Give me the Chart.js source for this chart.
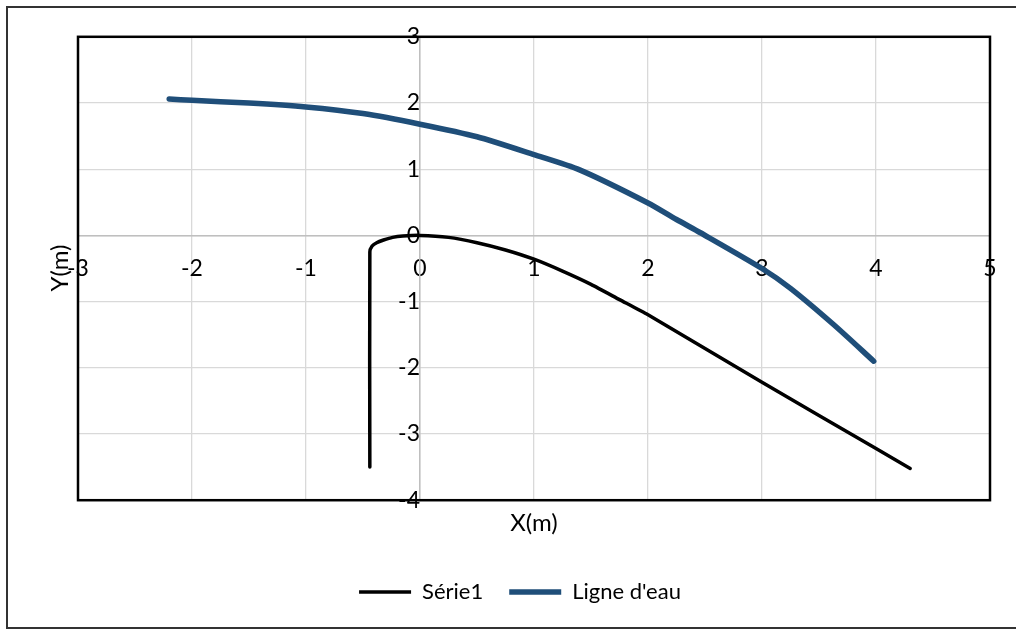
<!DOCTYPE html>
<html>
<head>
<meta charset="utf-8">
<script src="https://cdn.jsdelivr.net/npm/chart.js@4"></script>
<style>
  body { margin: 0; background: #fff; }
  #wrap { width: 1016px; height: 631px; }
</style>
</head>
<body>
<div id="wrap"><canvas id="chart" width="1016" height="631"></canvas></div>
<script>
// profil du déversoir (Série1)
const serie1X = [-0.44, -0.44, -0.42, -0.38, -0.32, -0.24, -0.15, 0, 0.25, 0.5, 0.75, 1, 1.25, 1.5, 1.75, 2, 3, 4, 4.3];
const serie1Y = [-3.5, -0.25, -0.16, -0.11, -0.07, -0.03, -0.01, 0, -0.03, -0.11, -0.22, -0.36, -0.54, -0.74, -0.97, -1.2, -2.22, -3.22, -3.52];

// ligne d'eau
const eauX = [-2.2, -2, -1.5, -1, -0.5, 0, 0.5, 1, 1.4, 2, 2.25, 2.46, 3, 3.25, 3.63, 3.98];
const eauY = [2.06, 2.04, 2.0, 1.94, 1.84, 1.68, 1.49, 1.22, 0.99, 0.49, 0.24, 0.04, -0.5, -0.8, -1.35, -1.9];

const xTicks = [-3, -2, -1, 0, 1, 2, 3, 4, 5];
const yTicks = [-4, -3, -2, -1, 0, 1, 2, 3];

const FONT = 'Lato, "Open Sans", sans-serif';

const toPoints = (xs, ys) => xs.map((x, i) => ({ x: x, y: ys[i] }));

// cadre de la zone de tracé + cadre extérieur + titre Y
const framePlugin = {
    id: 'frame',
    afterLayout(chart) {
        // légende un peu décalée à gauche comme dans Excel
        chart.legend.left -= 14;
        chart.legend.right -= 14;
    },
    afterDraw(chart) {
        const { ctx, chartArea: a } = chart;
        ctx.save();
        ctx.strokeStyle = '#000';
        ctx.lineWidth = 2.5;
        ctx.strokeRect(a.left, a.top, a.right - a.left, a.bottom - a.top);

        ctx.strokeStyle = '#333';
        ctx.lineWidth = 2;
        ctx.strokeRect(7, 7, 1016, 621);

        ctx.fillStyle = '#000';
        ctx.font = '24px ' + FONT;
        ctx.textAlign = 'center';
        ctx.textBaseline = 'middle';
        ctx.translate(60, 268);
        ctx.rotate(-Math.PI / 2);
        ctx.fillText('Y(m)', 0, 0);
        ctx.restore();
    }
};

new Chart(document.getElementById('chart'), {
    type: 'scatter',
    data: {
        datasets: [{
            label: 'Série1',
            data: toPoints(serie1X, serie1Y),
            showLine: true,
            borderColor: '#000000',
            backgroundColor: '#000000',
            borderWidth: 3.5,
            borderCapStyle: 'round',
            borderJoinStyle: 'round',
            pointRadius: 0,
            tension: 0.2
        }, {
            label: "Ligne d'eau",
            data: toPoints(eauX, eauY),
            showLine: true,
            borderColor: '#1f4e79',
            backgroundColor: '#1f4e79',
            borderWidth: 5.5,
            borderCapStyle: 'round',
            borderJoinStyle: 'round',
            pointRadius: 0,
            tension: 0.25
        }]
    },
    options: {
        responsive: false,
        animation: false,
        layout: { padding: { left: 78, right: 26, top: 35, bottom: 18 } },
        scales: {
            x: {
                type: 'linear',
                min: -3,
                max: 5,
                position: { y: 0 },
                afterBuildTicks: (axis) => { axis.ticks = xTicks.map(v => ({ value: v })); },
                grid: { color: '#d9d9d9', lineWidth: 1.3, drawTicks: false },
                border: { color: '#bfbfbf', width: 1.5 },
                ticks: { color: '#000', font: { family: FONT, size: 23 }, padding: 19, maxRotation: 0 }
            },
            y: {
                type: 'linear',
                min: -4,
                max: 3,
                position: { x: 0 },
                afterBuildTicks: (axis) => { axis.ticks = yTicks.map(v => ({ value: v })); },
                grid: { color: '#d9d9d9', lineWidth: 1.3, drawTicks: false },
                border: { color: '#bfbfbf', width: 1.5 },
                ticks: { color: '#000', font: { family: FONT, size: 23 }, padding: 23 }
            }
        },
        plugins: {
            title: {
                display: true,
                text: 'X(m)',
                position: 'bottom',
                weight: 500,
                color: '#000',
                font: { family: FONT, size: 24, weight: 'normal' },
                padding: { top: 9, bottom: 17 }
            },
            legend: {
                position: 'bottom',
                labels: {
                    usePointStyle: true,
                    pointStyle: 'line',
                    pointStyleWidth: 52,
                    padding: 26,
                    color: '#000',
                    font: { family: FONT, size: 22 }
                }
            },
            tooltip: { enabled: false }
        }
    },
    plugins: [framePlugin]
});
</script>
</body>
</html>
